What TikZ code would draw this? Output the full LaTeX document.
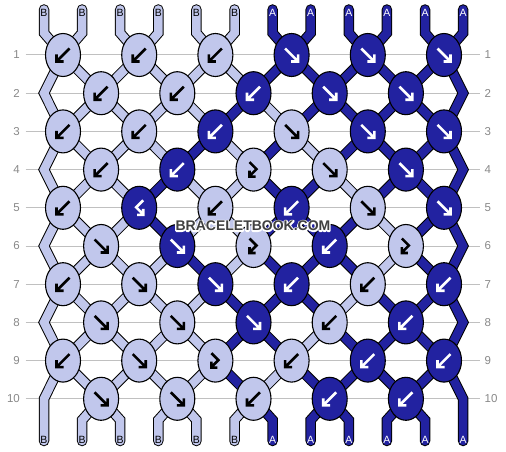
\documentclass[tikz,border=0pt]{standalone}
\usepackage{fontspec}
\setmainfont{Liberation Sans}
\usetikzlibrary{shapes.geometric,backgrounds}

\definecolor{lite}{RGB}{193,199,236}
\definecolor{deep}{RGB}{34,34,160}
\definecolor{rulegray}{RGB}{192,192,192}
\definecolor{numgray}{RGB}{136,136,136}
\definecolor{wmgray}{RGB}{64,64,64}

\tikzset{
  knot/.style={ellipse, draw=black, line width=1.1pt, minimum width=35pt, minimum height=43pt, inner sep=0pt},
  glyph/.style={line width=2.6pt, line cap=butt, line join=miter},
  % arrow marks inside the knots
  bk/.style={path picture={\draw[glyph, #1, shift={(path picture bounding box.center)}]
      (6.5pt,6.5pt) -- (-5.5pt,-5.5pt) (-6.5pt,0.5pt) -- (-6.5pt,-6.5pt) -- (0.5pt,-6.5pt);}},
  fw/.style={path picture={\draw[glyph, #1, shift={(path picture bounding box.center)}]
      (-6.5pt,6.5pt) -- (5.5pt,-5.5pt) (6.5pt,0.5pt) -- (6.5pt,-6.5pt) -- (-0.5pt,-6.5pt);}},
  fwbk/.style={path picture={\draw[glyph, #1, shift={(path picture bounding box.center)}]
      (-4pt,7.5pt) -- (3pt,0.5pt) -- (-3.5pt,-6pt) (-4pt,-1pt) -- (-4pt,-7pt) -- (2pt,-7pt);}},
  bkfw/.style={path picture={\draw[glyph, #1, shift={(path picture bounding box.center)}]
      (4pt,7.5pt) -- (-3pt,0.5pt) -- (3.5pt,-6pt) (4pt,-1pt) -- (4pt,-7pt) -- (-2pt,-7pt);}},
  lb/.style={knot, fill=lite, bk=black},
  lf/.style={knot, fill=lite, fw=black},
  db/.style={knot, fill=deep, bk=white},
  df/.style={knot, fill=deep, fw=white},
  lfb/.style={knot, fill=lite, fwbk=black},
  dbf/.style={knot, fill=deep, bkfw=white}
}

\begin{document}
\begin{tikzpicture}
  [ x=1pt, y=-1pt,
    strL/.style={draw=black, line width=1pt, double=lite, double distance=8.5pt, line cap=round},
    strD/.style={draw=black, line width=1pt, double=deep, double distance=8.5pt, line cap=round},
    tagL/.style={font=\fontsize{10.5}{10.5}\selectfont, text=black, inner sep=0pt},
    tagD/.style={font=\fontsize{10.5}{10.5}\selectfont, text=white, inner sep=0pt},
    numL/.style={font=\fontsize{11.5}{11.5}\selectfont, text=numgray, anchor=east, inner xsep=5.5pt, inner ysep=0pt},
    numR/.style={font=\fontsize{11.5}{11.5}\selectfont, text=numgray, anchor=west, inner xsep=4.5pt, inner ysep=0pt},
    rowline/.style={draw=rulegray, line width=1pt},
    wm/.style={font=\fontsize{14}{14}\selectfont\bfseries, text=wmgray, inner sep=0pt}
  ]
  \useasboundingbox (0,0) rectangle (506,452);

  % string ends
  \foreach \i in {1,...,12} {
    \coordinate (t\i) at ({44+38.1*(\i-1)},9.5);
    \coordinate (b\i) at ({44+38.1*(\i-1)},441);
  }

  % row numbers
  \foreach \r/\y in {1/55, 2/93.2, 3/131.4, 4/169.6, 5/207.8, 6/246, 7/284.2, 8/322.4, 9/360.6, 10/398.8} {
    \node[numL] (nl\r) at (25.5,\y) {\r};
    \node[numR] (nr\r) at (480,\y) {\r};
  }

  % row 1
  \node[lb] (k1-1) at (63,55) {};
  \node[lb] (k1-2) at (139.2,55) {};
  \node[lb] (k1-3) at (215.4,55) {};
  \node[df] (k1-4) at (291.6,55) {};
  \node[df] (k1-5) at (367.8,55) {};
  \node[df] (k1-6) at (444,55) {};
  % row 2
  \node[lb] (k2-1) at (101.1,93.2) {};
  \node[lb] (k2-2) at (177.3,93.2) {};
  \node[db] (k2-3) at (253.5,93.2) {};
  \node[df] (k2-4) at (329.7,93.2) {};
  \node[df] (k2-5) at (405.9,93.2) {};
  % row 3
  \node[lb] (k3-1) at (63,131.4) {};
  \node[lb] (k3-2) at (139.2,131.4) {};
  \node[db] (k3-3) at (215.4,131.4) {};
  \node[lf] (k3-4) at (291.6,131.4) {};
  \node[df] (k3-5) at (367.8,131.4) {};
  \node[df] (k3-6) at (444,131.4) {};
  % row 4
  \node[lb] (k4-1) at (101.1,169.6) {};
  \node[db] (k4-2) at (177.3,169.6) {};
  \node[lfb] (k4-3) at (253.5,169.6) {};
  \node[lf] (k4-4) at (329.7,169.6) {};
  \node[df] (k4-5) at (405.9,169.6) {};
  % row 5
  \node[lb] (k5-1) at (63,207.8) {};
  \node[dbf] (k5-2) at (139.2,207.8) {};
  \node[lb] (k5-3) at (215.4,207.8) {};
  \node[db] (k5-4) at (291.6,207.8) {};
  \node[lf] (k5-5) at (367.8,207.8) {};
  \node[df] (k5-6) at (444,207.8) {};
  % row 6
  \node[lf] (k6-1) at (101.1,246) {};
  \node[df] (k6-2) at (177.3,246) {};
  \node[lfb] (k6-3) at (253.5,246) {};
  \node[db] (k6-4) at (329.7,246) {};
  \node[lfb] (k6-5) at (405.9,246) {};
  % row 7
  \node[lb] (k7-1) at (63,284.2) {};
  \node[lf] (k7-2) at (139.2,284.2) {};
  \node[df] (k7-3) at (215.4,284.2) {};
  \node[db] (k7-4) at (291.6,284.2) {};
  \node[lb] (k7-5) at (367.8,284.2) {};
  \node[db] (k7-6) at (444,284.2) {};
  % row 8
  \node[lf] (k8-1) at (101.1,322.4) {};
  \node[lf] (k8-2) at (177.3,322.4) {};
  \node[df] (k8-3) at (253.5,322.4) {};
  \node[lb] (k8-4) at (329.7,322.4) {};
  \node[db] (k8-5) at (405.9,322.4) {};
  % row 9
  \node[lb] (k9-1) at (63,360.6) {};
  \node[lf] (k9-2) at (139.2,360.6) {};
  \node[lfb] (k9-3) at (215.4,360.6) {};
  \node[lb] (k9-4) at (291.6,360.6) {};
  \node[db] (k9-5) at (367.8,360.6) {};
  \node[db] (k9-6) at (444,360.6) {};
  % row 10
  \node[lf] (k10-1) at (101.1,398.8) {};
  \node[lf] (k10-2) at (177.3,398.8) {};
  \node[lb] (k10-3) at (253.5,398.8) {};
  \node[db] (k10-4) at (329.7,398.8) {};
  \node[db] (k10-5) at (405.9,398.8) {};

  \begin{scope}[on background layer]
    \foreach \r in {1,...,10} \draw[rowline] (nl\r) -- (nr\r);

    % threads between knots
    \foreach \a/\b in {k1-1/k2-1, k1-2/k2-2, k1-3/k2-3, k1-2/k2-1, k1-3/k2-2,
        k2-1/k3-1, k2-2/k3-2, k2-1/k3-2, k2-2/k3-3, k2-3/k3-4,
        k3-1/k4-1, k3-2/k4-2, k3-3/k4-3, k3-4/k4-4, k3-2/k4-1,
        k4-1/k5-1, k4-3/k5-3, k4-1/k5-2, k4-2/k5-3, k4-4/k5-5,
        k5-1/k6-1, k5-3/k6-3, k5-5/k6-5, k5-2/k6-1, k5-3/k6-2,
        k6-1/k7-1, k6-2/k7-2, k6-3/k7-3, k6-5/k7-5, k6-1/k7-2,
        k7-1/k8-1, k7-2/k8-2, k7-2/k8-1, k7-3/k8-2, k7-5/k8-4,
        k8-1/k9-1, k8-2/k9-2, k8-4/k9-4, k8-1/k9-2, k8-2/k9-3,
        k9-1/k10-1, k9-2/k10-2, k9-2/k10-1, k9-3/k10-2, k9-4/k10-3}
      \draw[strL] (\a.center) -- (\b.center);
    \foreach \a/\b in {k1-4/k2-4, k1-5/k2-5, k1-4/k2-3, k1-5/k2-4, k1-6/k2-5,
        k2-3/k3-3, k2-4/k3-4, k2-5/k3-5, k2-4/k3-5, k2-5/k3-6,
        k3-5/k4-5, k3-3/k4-2, k3-4/k4-3, k3-5/k4-4, k3-6/k4-5,
        k4-2/k5-2, k4-4/k5-4, k4-5/k5-5, k4-3/k5-4, k4-5/k5-6,
        k5-2/k6-2, k5-4/k6-4, k5-4/k6-3, k5-5/k6-4, k5-6/k6-5,
        k6-4/k7-4, k6-2/k7-3, k6-3/k7-4, k6-4/k7-5, k6-5/k7-6,
        k7-3/k8-3, k7-4/k8-4, k7-5/k8-5, k7-4/k8-3, k7-6/k8-5,
        k8-3/k9-3, k8-5/k9-5, k8-3/k9-4, k8-4/k9-5, k8-5/k9-6,
        k9-3/k10-3, k9-4/k10-4, k9-5/k10-5, k9-5/k10-4, k9-6/k10-5}
      \draw[strD] (\a.center) -- (\b.center);

    % edge threads
    \foreach \r/\m/\s in {1/2/3, 3/4/5, 5/6/7, 7/8/9} {
      \draw[strL] (k\r-1.center) -- (t1 |- k\m-1.center) -- (k\s-1.center);
      \draw[strD] (k\r-6.center) -- (t12 |- k\m-5.center) -- (k\s-6.center);
    }
    \draw[strL] (k9-1.center) -- (b1 |- k10-1.center) -- (b1);
    \draw[strD] (k9-6.center) -- (b12 |- k10-5.center) -- (b12);

    % top and bottom threads
    \foreach \i/\c in {1/1, 2/1, 3/2, 4/2, 5/3, 6/3}
      \draw[strL] (t\i) -- ++(0,23.5) -- (k1-\c.center);
    \foreach \i/\c in {7/4, 8/4, 9/5, 10/5, 11/6, 12/6}
      \draw[strD] (t\i) -- ++(0,23.5) -- (k1-\c.center);
    \foreach \i/\c in {2/1, 3/1, 4/2, 5/2, 6/3}
      \draw[strL] (k10-\c.center) -- (b\i |- 0,420) -- (b\i);
    \foreach \i/\c in {7/3, 8/4, 9/4, 10/5, 11/5}
      \draw[strD] (k10-\c.center) -- (b\i |- 0,420) -- (b\i);
  \end{scope}

  % thread letters
  \foreach \i in {1,...,6} {
    \node[tagL] (tl\i) at ([yshift=-3.3pt]t\i) {B};
    \node[tagL] (bl\i) at ([yshift=1.5pt]b\i) {B};
  }
  \foreach \i in {7,...,12} {
    \node[tagD] (tl\i) at ([yshift=-3.3pt]t\i) {A};
    \node[tagD] (bl\i) at ([yshift=1.5pt]b\i) {A};
  }

  % watermark: white outline under the grey letters
  \node[wm] (mark) at (253,226)
    {\rlap{\special{pdf:literal direct 1 Tr 2.6 w 1 1 1 RG 1 J 1 j}BRACELETBOOK.COM\special{pdf:literal direct 0 Tr}}BRACELETBOOK.COM};
\end{tikzpicture}
\end{document}
